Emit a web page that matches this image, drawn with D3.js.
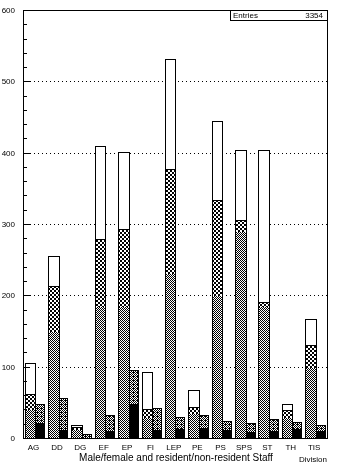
<!DOCTYPE html>
<html><head><meta charset="utf-8">
<script src="https://cdn.jsdelivr.net/npm/d3@7"></script>
<style>
body{margin:0;background:#fff}
svg{display:block;will-change:transform}
text{font-family:"Liberation Sans",Arial,sans-serif;fill:#000;-webkit-font-smoothing:antialiased}
</style>
</head><body>
<svg id="c" width="352" height="470"></svg>
<script>
// ---- data ----
const categories = ["AG","DD","DG","EF","EP","FI","LEP","PE","PS","SPS","ST","TH","TIS"];
const allStaff   = [105, 255, 18, 410, 401, 92, 531, 67, 444, 404, 404, 48, 167];
const coarseVals = [61, 213, 15, 279, 293, 41, 377, 44, 334, 306, 190, 39, 130];
const fineVals   = [40, 150, 12, 185, 185, 30, 231, 35, 200, 290, 185, 30, 100];
const rightVals  = [48, 56, 6, 32, 96, 42, 29, 32, 24, 21, 27, 22, 18];
const blackVals  = [22, 13, 0, 11, 49, 13, 14, 15, 13, 10, 11, 14, 11];
const yMajor = [0,100,200,300,400,500,600];
const yMinor = d3.range(0, 601, 20);
const gridVals = [100,200,300,400,500];
const entries = 3354;

const svg = d3.select("#c");
const L = 23, R = 327, T = 10, B = 438;

const x = d3.scaleBand().domain(categories).range([L, R]).padding(0);
const y = d3.scaleLinear().domain([0, 600]).range([B, T]);

// patterns
const defs = svg.append("defs");
function pat(id, size, cells){
  const p = defs.append("pattern").attr("id", id).attr("patternUnits","userSpaceOnUse")
    .attr("width", size).attr("height", size);
  p.append("rect").attr("width", size).attr("height", size).attr("fill","#fff");
  cells.forEach(c => p.append("rect").attr("x",c[0]).attr("y",c[1]).attr("width",c[2]).attr("height",c[2])
    .attr("fill","#000").attr("shape-rendering","crispEdges"));
}
pat("coarse", 4, [[0,0,2],[2,2,2]]);
pat("fine", 2, [[0,0,1],[1,1,1]]);
pat("dither", 4, [[0,0,1],[2,0,1],[1,1,1],[3,1,1],[0,2,1],[2,2,1],[1,3,1],[3,3,1],[1,0,1]]);

const g = svg.append("g").attr("shape-rendering","crispEdges");

// dotted grid
g.selectAll("line.grid").data(gridVals).join("line")
  .attr("x1", L + 7).attr("x2", R)
  .attr("y1", d => Math.round(y(d)) + 0.5).attr("y2", d => Math.round(y(d)) + 0.5)
  .attr("stroke","#000").attr("stroke-width",1).attr("stroke-dasharray","1,3");

const bw = x.bandwidth();
const lx0 = c => Math.round(x(c) + bw*0.07) + 0.5;
const lx1 = c => Math.round(x(c) + bw*0.52) + 0.5;
const rx1 = c => Math.round(x(c) + bw*0.90) + 0.5;
const yy = v => Math.round(y(v)) + 0.5;

function bars(vals, x0, x1, fill, stroke){
  g.append("g").selectAll("rect").data(categories.map((c,i)=>({c, v: vals[i]})).filter(d=>d.v>0)).join("rect")
    .attr("x", d => x0(d.c)).attr("width", d => x1(d.c) - x0(d.c))
    .attr("y", d => yy(d.v)).attr("height", d => yy(0) - yy(d.v))
    .attr("fill", fill).attr("stroke", stroke ? "#000" : "none").attr("stroke-width",1);
}
bars(allStaff, lx0, lx1, "#fff", true);
bars(coarseVals, lx0, lx1, "url(#coarse)", true);
bars(fineVals, lx0, lx1, "url(#fine)", false);
bars(allStaff, lx0, lx1, "none", true);
bars(rightVals, lx1, rx1, "url(#dither)", true);
bars(blackVals, lx1, rx1, "#000", false);
bars(rightVals, lx1, rx1, "none", true);

// frame
g.append("rect").attr("x", L + 0.5).attr("y", T + 0.5).attr("width", R - L).attr("height", B - T)
  .attr("fill","none").attr("stroke","#000").attr("stroke-width",1);

// y ticks
g.selectAll("line.minor").data(yMinor).join("line")
  .attr("x1", L).attr("x2", L + 4).attr("y1", d => yy(d)).attr("y2", d => yy(d))
  .attr("stroke","#000");
g.selectAll("line.major").data(yMajor).join("line")
  .attr("x1", L).attr("x2", L + 7).attr("y1", d => yy(d)).attr("y2", d => yy(d))
  .attr("stroke","#000");

svg.append("g").selectAll("text").data(yMajor).join("text")
  .attr("x", 15).attr("y", d => y(d) + 3).attr("text-anchor","end")
  .attr("font-size", 8).attr("fill","#000").text(d => d);

// category labels
svg.append("g").selectAll("text").data(categories).join("text")
  .attr("x", c => x(c) + bw*0.45).attr("y", 450).attr("text-anchor","middle")
  .attr("font-size", 8).attr("fill","#000").text(c => c);

// axis titles
svg.append("text").attr("x", 176).attr("y", 461).attr("text-anchor","middle")
  .attr("font-size", 10).attr("fill","#000").text("Male/female and resident/non-resident Staff");
svg.append("text").attr("x", 327).attr("y", 462).attr("text-anchor","end")
  .attr("font-size", 8).attr("fill","#000").text("Division");

// stats box
g.append("rect").attr("x", 230.5).attr("y", T + 0.5).attr("width", R - 230).attr("height", 10)
  .attr("fill","#fff").attr("stroke","#000");
svg.append("text").attr("x", 233).attr("y", 18).attr("font-size", 8).attr("fill","#000").text("Entries");
svg.append("text").attr("x", 323).attr("y", 18).attr("text-anchor","end").attr("font-size", 8).attr("fill","#000").text(entries);
</script>
</body></html>
